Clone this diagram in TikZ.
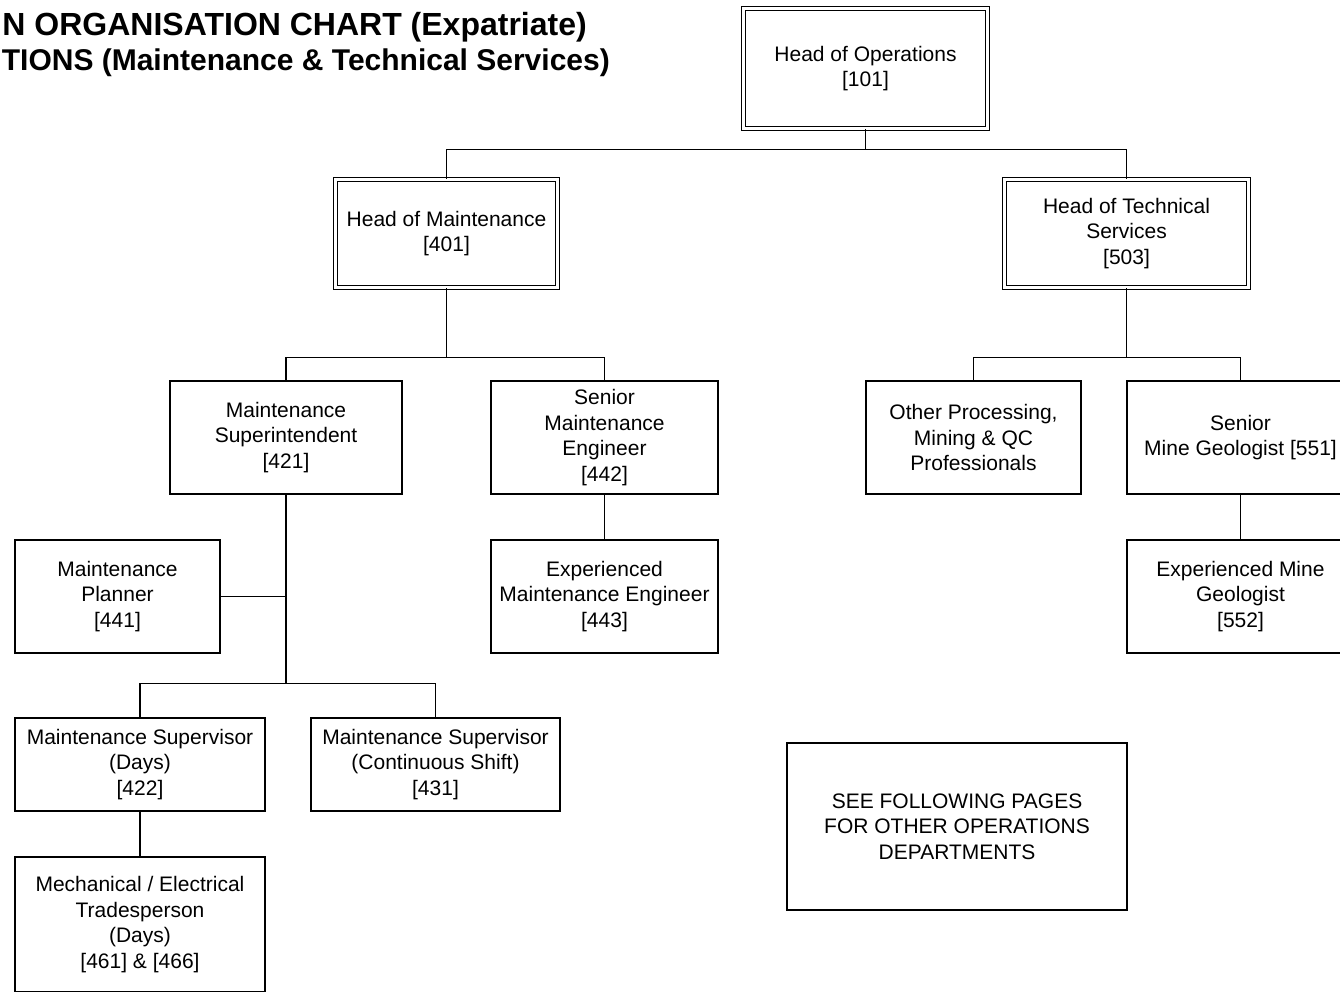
\documentclass[tikz,border=0pt]{standalone}
\usepackage{fontspec}
\setmainfont{Liberation Sans}
\begin{document}
\begin{tikzpicture}[x=1pt,y=-1pt,
		post/.style={draw, line width=1.1pt, align=center, inner sep=2pt,
			font=\fontsize{21}{25.5}\selectfont},
		headpost/.style={post, double, double distance=2.5pt},
		title/.style={anchor=base east, inner sep=0pt, align=right,
			font=\fontsize{30}{35}\bfseries},
		link/.style={line width=1.1pt}]
	\useasboundingbox (0,0) rectangle (1340,991);
	% title, cut off at the left edge
	\node[title, font=\fontsize{32}{35}\bfseries] (ttla) at (587,35) {N ORGANISATION CHART (Expatriate)};
	\node[title] (ttlb) at (610,70) {TIONS (Maintenance \& Technical Services)};
	% heads
	\node[headpost, minimum width=244pt, minimum height=120pt] (hoo) at (865.5,68.5) {Head of Operations\\{[101]}};
	\node[headpost, minimum width=222pt, minimum height=108pt] (hom) at (446.5,233.5) {Head of Maintenance\\{[401]}};
	\node[headpost, minimum width=244pt, minimum height=108pt] (hts) at (1126.5,233.5) {Head of Technical\\Services\\{[503]}};
	% maintenance
	\node[post, minimum width=232pt, minimum height=113pt] (msup) at (286,437.5) {Maintenance\\Superintendent\\{[421]}};
	\node[post, minimum width=227pt, minimum height=113pt] (sme) at (604.5,437.5) {Senior\\Maintenance\\Engineer\\{[442]}};
	\node[post, minimum width=227pt, minimum height=113pt] (eme) at (604.5,596.5) {Experienced\\Maintenance Engineer\\{[443]}};
	\node[post, minimum width=205pt, minimum height=113pt] (mpl) at (117.5,596.5) {Maintenance\\Planner\\{[441]}};
	\node[post, minimum width=250pt, minimum height=93pt] (msd) at (140,764.5) {Maintenance Supervisor\\(Days)\\{[422]}};
	\node[post, minimum width=249pt, minimum height=93pt] (msc) at (435.5,764.5) {Maintenance Supervisor\\(Continuous Shift)\\{[431]}};
	\node[post, minimum width=250pt, minimum height=135pt] (mtr) at (140,924.5) {Mechanical / Electrical\\Tradesperson\\(Days)\\{[461] \& [466]}};
	% technical services
	\node[post, minimum width=215pt, minimum height=113pt] (oth) at (973.5,437.5) {Other Processing,\\Mining \& QC\\Professionals};
	\node[post, minimum width=227pt, minimum height=113pt] (smg) at (1240.5,437.5) {Senior\\Mine Geologist [551]};
	\node[post, minimum width=227pt, minimum height=113pt] (emg) at (1240.5,596.5) {Experienced Mine\\Geologist\\{[552]}};
	% note
	\node[post, minimum width=340pt, minimum height=167pt] (see) at (957,826.5) {SEE FOLLOWING PAGES\\FOR OTHER OPERATIONS\\DEPARTMENTS};
	% connectors
	\draw[link] (hoo.south) -- ++(0,20.5) -| (hom.north);
	\draw[link] (hoo.south) -- ++(0,20.5) -| (hts.north);
	\draw[link] (hom.south) -- ++(0,69.5) -| (msup.north);
	\draw[link] (hom.south) -- ++(0,69.5) -| (sme.north);
	\draw[link] (hts.south) -- ++(0,69.5) -| (oth.north);
	\draw[link] (hts.south) -- ++(0,69.5) -| (smg.north);
	\draw[link] (sme) -- (eme);
	\draw[link] (smg) -- (emg);
	\draw[link] (msup.south) -- ++(0,189) -| (msd.north);
	\draw[link] (msup.south) -- ++(0,189) -| (msc.north);
	\draw[link] (mpl.east) -- (mpl.east -| msup.south);
	\draw[link] (msd) -- (mtr);
\end{tikzpicture}
\end{document}
